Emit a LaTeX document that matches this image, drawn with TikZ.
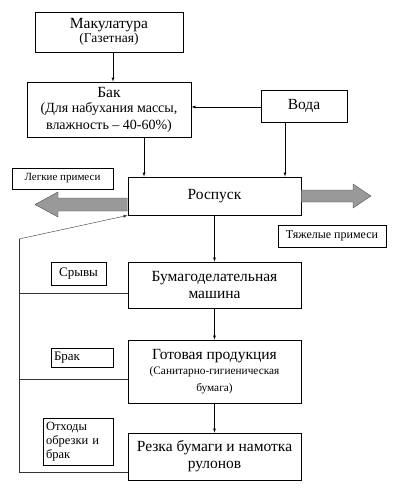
\documentclass[tikz,border=0pt]{standalone}
\usepackage{fontspec}
\setmainfont{Liberation Serif}
\usetikzlibrary{calc}

\tikzset{
  blok/.style={draw, thick, align=center, inner sep=1pt, font=\fontsize{15.5}{17}\selectfont},
  metka/.style={draw, align=center, inner sep=1pt, font=\fontsize{11}{12}\selectfont},
  vozvrat/.style={draw=black!80},
  tolst/.style={draw=black!70, fill=black!40}
}

\begin{document}
\begin{tikzpicture}[x=1pt, y=-1pt]
            \tikzset{>=latex}
      \useasboundingbox (0,0) rectangle (400,496);

      % main boxes
      \node[blok, minimum width=148, minimum height=40] (mak) at (109,32)
          {Макулатура\\[-3pt]{\fontsize{13.5}{15}\selectfont(Газетная)}};
      \node[blok, minimum width=164, minimum height=55] (bak) at (109,109.5)
          {Бак\\[-2pt]{\fontsize{14}{15}\selectfont (Для набухания массы,}\\{\fontsize{14}{15}\selectfont влажность -- 40-60\%)}};
      \node[blok, minimum width=86, minimum height=32] (voda) at (304,106) {Вода};
      \node[blok, minimum width=173, minimum height=38] (rosp) at (214.5,196) {Роспуск};
      \node[blok, minimum width=173, minimum height=46] (bum) at (214.5,285)
          {Бумагоделательная\\машина};
      \node[blok, minimum width=173, minimum height=63] (got) at (214.5,371.5)
          {Готовая продукция\\[-2pt]{\fontsize{11.3}{13}\selectfont (Санитарно-гигиеническая}\\{\fontsize{11.3}{13}\selectfont бумага)}};
      \node[blok, minimum width=173, minimum height=47] (rezka) at (214.5,456.5)
          {Резка бумаги и намотка\\рулонов};

      % side labels
      \node[metka, minimum width=101, minimum height=21] (legk) at (62.5,178.5) {Легкие примеси};
      \node[metka, minimum width=108, minimum height=22, font=\fontsize{12}{13}\selectfont] (tyazh) at (332,236) {Тяжелые примеси};
      \node[metka, minimum width=55, minimum height=23, font=\fontsize{13}{14}\selectfont] (sryv) at (78.5,273.5) {Срывы};
      \node[metka, minimum width=62, minimum height=19, text width=56, align=left,
            font=\fontsize{13}{14}\selectfont] (brak) at (82,357.5) {Брак};
      \node[metka, minimum width=70, minimum height=47, text width=64, align=left,
            font=\fontsize{12.5}{14}\selectfont] (otkh) at (78,441.5)
          {Отходы\\обрезки и\\брак};

      % flow
      \draw[->] ([xshift=4]mak.south) -- ([xshift=4]mak.south |- bak.north);
      \draw[->] ([yshift=-1]voda.west) -- ([yshift=-1]voda.west -| bak.east);
      \draw[->] ([xshift=35]bak.south) -- ([xshift=35]bak.south |- rosp.north);
      \draw[->] ([xshift=-19]voda.south) -- ([xshift=-19]voda.south |- rosp.north);
      \draw[->] (rosp) -- (bum);
      \draw[->] (bum) -- (got);
      \draw[->] (got) -- (rezka);

      % impurities
      \draw[tolst] (rosp.west |- 0,198) -- (58,198) -- (58,192) -- (35,204.5)
          -- (58,217) -- (58,211) -- (rosp.west |- 0,211);
      \draw[tolst] (rosp.east |- 0,190) -- (353,190) -- (353,184) -- (371,196)
          -- (353,208) -- (353,202) -- (rosp.east |- 0,202);

      % return loop
      \coordinate (fb) at (19,239);
      \draw[vozvrat] ([yshift=-15.5]rezka.west) -| (fb);
      \draw[vozvrat, ->] (fb) -- (rosp.south west);
      \draw[vozvrat] ([yshift=-8]bum.west) -- ([yshift=-8]bum.west -| fb);
      \draw[vozvrat] ([yshift=-7.5]got.west) -- ([yshift=-7.5]got.west -| fb);
            \end{tikzpicture}
\end{document}
